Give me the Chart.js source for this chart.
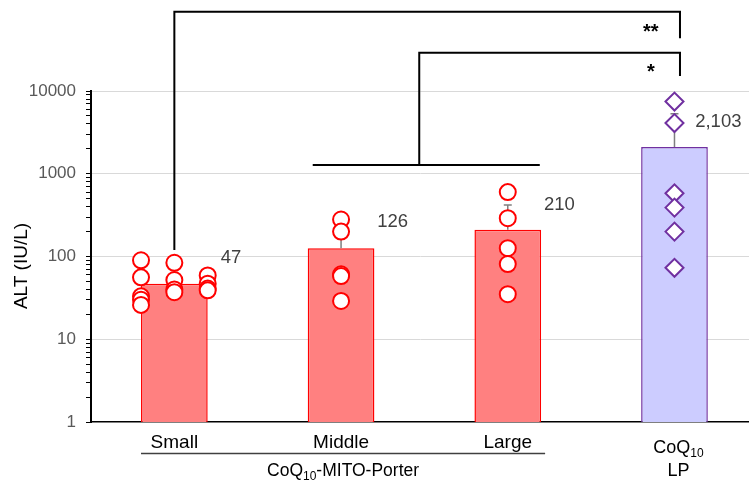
<!DOCTYPE html>
<html>
<head>
<meta charset="utf-8">
<script src="https://cdn.jsdelivr.net/npm/chart.js@4/dist/chart.umd.min.js"></script>
<style>
  html, body { margin: 0; padding: 0; background: #fff; overflow: hidden; }
  #wrap { width: 749px; height: 482px; }
</style>
</head>
<body>
<div id="wrap"><canvas id="c" width="749" height="482"></canvas></div>
<script>
// ---- data -------------------------------------------------------------
// x-axis groups; "_{..}" marks a subscript, an array is a multi-line label
const categories = ['Small', 'Middle', 'Large', ['CoQ_{10}', 'LP']];
const groupLabel = 'CoQ_{10}-MITO-Porter';   // spans the first three groups
const groupMembers = [0, 1, 2];

// mean ALT (IU/L) and upper end of the error bar
const meanALT = [47, 126, 210, 2103];
const errorUpper = [95, 262, 420, 5300];

// individual animals, one inner list per column of dots
const smallValues  = [[90, 56, 33, 30, 26], [84, 52, 40, 37], [59, 47, 41, 39]];
const middleValues = [[280, 200, 61, 58, 29]];
const largeValues  = [[600, 290, 126, 81, 35]];
const lpValues     = [[7450, 4100, 580, 390, 200, 73]];

// y-axis decades that carry a label
const yTickLabels = [1, 10, 100, 1000, 10000];

// significance marks
const sigMarks = ['**', '*'];

// ---- styling ----------------------------------------------------------
const FONT = "'Liberation Sans', Arial, sans-serif";
const RED = '#FF0000', RED_FILL = '#FF8080';
const PURPLE = '#7030A0', PURPLE_FILL = '#CCCCFF';
const barFill   = [RED_FILL, RED_FILL, RED_FILL, PURPLE_FILL];
const barBorder = [RED, RED, RED, PURPLE];

const COL_GAP = 0.2;   // horizontal spread between dot columns (x units)

function pointsFor(groupIndex, columns) {
  const pts = [];
  const n = columns.length;
  columns.forEach((col, c) => {
    const dx = (c - (n - 1) / 2) * COL_GAP;
    col.forEach(v => pts.push({ x: groupIndex + dx, y: v }));
  });
  return pts;
}

function dotDataset(groupIndex, columns, color, style, radius) {
  return {
    type: 'scatter',
    data: pointsFor(groupIndex, columns),
    pointStyle: style,
    radius: radius,
    pointRadius: radius,
    borderColor: color,
    backgroundColor: '#FFFFFF',
    borderWidth: 2,
    order: 1
  };
}

// all minor + major ticks of the log axis
function logTicks(min, max) {
  const out = [];
  for (let d = min; d < max; d *= 10) {
    for (let k = 1; k < 10; k++) out.push({ value: d * k });
  }
  out.push({ value: max });
  return out;
}
const isDecade = v => yTickLabels.includes(v);

// ---- rich text with subscripts ---------------------------------------
function parseRich(str) {
  const segs = [];
  const re = /_\{([^}]*)\}/g;
  let last = 0, m;
  while ((m = re.exec(str)) !== null) {
    if (m.index > last) segs.push({ t: str.slice(last, m.index), sub: false });
    segs.push({ t: m[1], sub: true });
    last = re.lastIndex;
  }
  if (last < str.length) segs.push({ t: str.slice(last), sub: false });
  return segs;
}
function drawRich(ctx, str, cx, baseline, size, color) {
  const segs = parseRich(str);
  const subSize = Math.round(size * 0.68);
  let total = 0;
  segs.forEach(s => {
    ctx.font = (s.sub ? subSize : size) + 'px ' + FONT;
    s.w = ctx.measureText(s.t).width;
    total += s.w;
  });
  let x = cx - total / 2;
  ctx.fillStyle = color;
  ctx.textAlign = 'left';
  ctx.textBaseline = 'alphabetic';
  segs.forEach(s => {
    ctx.font = (s.sub ? subSize : size) + 'px ' + FONT;
    ctx.fillText(s.t, x, baseline + (s.sub ? size * 0.22 : 0));
    x += s.w;
  });
}

// ---- plugins ----------------------------------------------------------
const errorBars = {
  id: 'errorBars',
  afterDatasetDraw(chart, args) {
    if (args.index !== 0) return;
    const { ctx, scales: { y } } = chart;
    const bars = args.meta.data;
    ctx.save();
    ctx.strokeStyle = '#7F7F7F';
    ctx.lineWidth = 1.5;
    bars.forEach((bar, i) => {
      const yHi = y.getPixelForValue(errorUpper[i]);
      ctx.beginPath();
      ctx.moveTo(bar.x, bar.y);
      ctx.lineTo(bar.x, yHi);
      ctx.moveTo(bar.x - 4, yHi);
      ctx.lineTo(bar.x + 4, yHi);
      ctx.stroke();
    });
    ctx.restore();
  }
};

const valueLabels = {
  id: 'valueLabels',
  afterDatasetsDraw(chart) {
    const { ctx, scales: { x, y } } = chart;
    ctx.save();
    ctx.font = '18.5px ' + FONT;
    ctx.fillStyle = '#404040';
    ctx.textAlign = 'right';
    ctx.textBaseline = 'middle';
    meanALT.forEach((v, i) => {
      const px = x.getPixelForValue(i) + 67;
      const py = Math.max(y.getPixelForValue(errorUpper[i]), chart.chartArea.top + 31);
      ctx.fillText(v.toLocaleString('en-US'), px, py);
    });
    ctx.restore();
  }
};

// comparison brackets, given in x-units and IU/L
const brackets = [
  { mark: 0, top: 90600, left: [{ x: 0, to: 120 }], rightX: 3.033, rightTo: 43300, markX: 2.858, markY: 59300 },
  { mark: 1, top: 29000, left: [{ x: 1.469, to: 1276 }], rightX: 3.033, rightTo: 15200, markX: 2.858, markY: 19500,
    span: { from: 0.83, to: 2.192, level: 1276 } }
];

const axisText = {
  id: 'axisText',
  afterDraw(chart) {
    const { ctx, scales: { x, y }, chartArea } = chart;
    ctx.save();

    // brackets
    ctx.strokeStyle = '#000';
    ctx.lineWidth = 2;
    ctx.lineCap = 'butt';
    brackets.forEach(b => {
      const yt = y.getPixelForValue(b.top);
      const xr = x.getPixelForValue(b.rightX);
      b.left.forEach(l => {
        const xl = x.getPixelForValue(l.x);
        ctx.beginPath();
        ctx.moveTo(xl, y.getPixelForValue(l.to));
        ctx.lineTo(xl, yt);
        ctx.lineTo(xr, yt);
        ctx.lineTo(xr, y.getPixelForValue(b.rightTo));
        ctx.stroke();
      });
      if (b.span) {
        const ys = y.getPixelForValue(b.span.level);
        ctx.beginPath();
        ctx.moveTo(x.getPixelForValue(b.span.from), ys);
        ctx.lineTo(x.getPixelForValue(b.span.to), ys);
        ctx.stroke();
      }
      ctx.font = 'bold 20px ' + FONT;
      ctx.fillStyle = '#000';
      ctx.textAlign = 'center';
      ctx.textBaseline = 'middle';
      ctx.fillText(sigMarks[b.mark], x.getPixelForValue(b.markX), y.getPixelForValue(b.markY) + 5);
    });

    // category labels
    categories.forEach((c, i) => {
      const cx = x.getPixelForValue(i);
      if (Array.isArray(c)) {
        drawRich(ctx, c[0], cx + 4, chartArea.bottom + 31, 18, '#000');
        drawRich(ctx, c[1], cx + 4, chartArea.bottom + 54, 18, '#000');
      } else {
        drawRich(ctx, c, cx, chartArea.bottom + 26, 19, '#000');
      }
    });

    // group underline and label
    const first = chart.getDatasetMeta(0).data[groupMembers[0]];
    const last = chart.getDatasetMeta(0).data[groupMembers[groupMembers.length - 1]];
    const gx1 = first.x - first.width / 2;
    const gx2 = last.x + last.width / 2 + 4;
    const gy = chartArea.bottom + 31.5;
    ctx.strokeStyle = '#404040';
    ctx.lineWidth = 1.5;
    ctx.beginPath();
    ctx.moveTo(gx1, gy);
    ctx.lineTo(gx2, gy);
    ctx.stroke();
    drawRich(ctx, groupLabel, (gx1 + gx2) / 2, chartArea.bottom + 54, 17.5, '#000');

    // y-axis title
    ctx.translate(22, 266);
    ctx.rotate(-Math.PI / 2);
    ctx.font = '19px ' + FONT;
    ctx.fillStyle = '#000';
    ctx.textAlign = 'center';
    ctx.textBaseline = 'middle';
    ctx.fillText('ALT (IU/L)', 0, 0);
    ctx.restore();
  }
};

// ---- chart ------------------------------------------------------------
new Chart(document.getElementById('c'), {
  type: 'bar',
  data: {
    datasets: [
      {
        type: 'bar',
        data: meanALT.map((v, i) => ({ x: i, y: v })),
        backgroundColor: barFill,
        borderColor: barBorder,
        borderWidth: 1.5,
        borderSkipped: 'start',
        barPercentage: 0.4,
        categoryPercentage: 1,
        order: 2
      },
      dotDataset(0, smallValues, RED, 'circle', 8),
      dotDataset(1, middleValues, RED, 'circle', 8),
      dotDataset(2, largeValues, RED, 'circle', 8),
      dotDataset(3, lpValues, PURPLE, 'rectRot', 9)
    ]
  },
  options: {
    responsive: false,
    animation: false,
    devicePixelRatio: 1,
    layout: { autoPadding: false, padding: { top: 91, right: 0, left: 0, bottom: 0 } },
    plugins: { legend: { display: false }, tooltip: { enabled: false } },
    scales: {
      x: {
        type: 'linear',
        offset: false,
        min: -0.5,
        max: 3.447,
        afterBuildTicks(s) { s.ticks = categories.map((_, i) => ({ value: i })); },
        grid: { display: false, drawTicks: false },
        ticks: { display: false },
        border: { color: '#000', width: 1.5 },
        afterFit(s) { s.height = 60; }
      },
      y: {
        type: 'logarithmic',
        min: 1,
        max: 10000,
        afterFit(s) { s.width = 91; },
        afterBuildTicks(s) { s.ticks = logTicks(1, 10000); },
        ticks: {
          autoSkip: false,
          padding: 10,
          color: '#595959',
          font: { size: 17, family: FONT },
          callback: v => (isDecade(v) ? String(v) : '')
        },
        grid: {
          color: ctx => (ctx.tick && isDecade(ctx.tick.value) && ctx.tick.value > 1 ? '#D9D9D9' : 'rgba(0,0,0,0)'),
          tickColor: '#000',
          tickLength: 5,
          lineWidth: 1
        },
        border: { color: '#000', width: 2 }
      }
    }
  },
  plugins: [errorBars, valueLabels, axisText]
});
</script>
</body>
</html>
